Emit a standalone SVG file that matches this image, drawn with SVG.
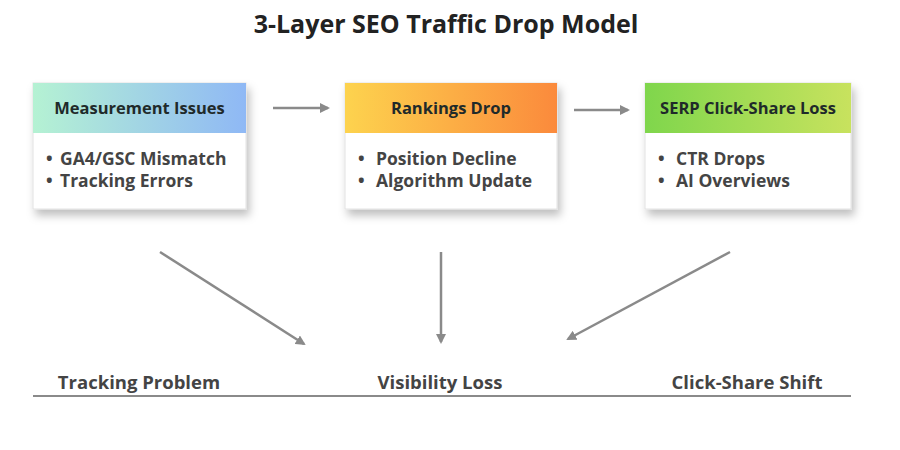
<svg xmlns="http://www.w3.org/2000/svg" width="900" height="450" viewBox="0 0 900 450">
<defs>
<linearGradient id="g1" x1="0" x2="1"><stop offset="0" stop-color="#b5f2d3"/><stop offset="1" stop-color="#8fb8f5"/></linearGradient>
<linearGradient id="g2" x1="0" x2="1"><stop offset="0" stop-color="#fdd34e"/><stop offset="1" stop-color="#fb8a3c"/></linearGradient>
<linearGradient id="g3" x1="0" x2="1"><stop offset="0" stop-color="#7fd64c"/><stop offset="1" stop-color="#c8e25e"/></linearGradient>
<filter id="sh" x="-20%" y="-20%" width="140%" height="150%"><feDropShadow dx="3" dy="6" stdDeviation="4" flood-color="#000" flood-opacity="0.25"/></filter>
<marker id="ah" viewBox="0 0 10 10" refX="8" refY="5" markerWidth="4" markerHeight="4" orient="auto"><path d="M0,0 L10,5 L0,10 z" fill="#8a8a8a"/></marker>
<style>
text{font-family:"Open Sans","Liberation Sans",sans-serif;font-weight:700}
.title{font-size:25px;fill:#222}
.hd{font-size:16.5px;fill:#1f2a2a}
.it{font-size:17.5px;fill:#444}
.lb{font-size:18.5px;fill:#444}
.body{fill:#fff;stroke:#e2e2e2;stroke-width:1}
.c{stroke:#8a8a8a;stroke-width:2.5;fill:none;marker-end:url(#ah)}
</style>
</defs>
<rect width="900" height="450" fill="#fff"/>
<text class="title" x="446" y="33" text-anchor="middle">3-Layer SEO Traffic Drop Model</text>
<g id="n1">
<rect class="body" x="33" y="83" width="213" height="126" filter="url(#sh)"/>
<rect x="33" y="83" width="213" height="50" fill="url(#g1)"/>
<text class="hd" x="139.5" y="114" text-anchor="middle">Measurement Issues</text>
<text class="it" x="46" y="165">•</text><text class="it" x="60" y="165">GA4/GSC Mismatch</text>
<text class="it" x="46" y="187">•</text><text class="it" x="60" y="187">Tracking Errors</text>
</g>
<g id="n2">
<rect class="body" x="345" y="83" width="212" height="126" filter="url(#sh)"/>
<rect x="345" y="83" width="212" height="50" fill="url(#g2)"/>
<text class="hd" x="451" y="114" text-anchor="middle">Rankings Drop</text>
<text class="it" x="358" y="165">•</text><text class="it" x="376" y="165">Position Decline</text>
<text class="it" x="358" y="187">•</text><text class="it" x="376" y="187">Algorithm Update</text>
</g>
<g id="n3">
<rect class="body" x="645" y="83" width="206" height="126" filter="url(#sh)"/>
<rect x="645" y="83" width="206" height="50" fill="url(#g3)"/>
<text class="hd" x="748" y="114" text-anchor="middle">SERP Click-Share Loss</text>
<text class="it" x="658" y="165">•</text><text class="it" x="676" y="165">CTR Drops</text>
<text class="it" x="658" y="187">•</text><text class="it" x="676" y="187">AI Overviews</text>
</g>
<g id="connectors">
<line class="c" x1="273" y1="108" x2="328" y2="108"/>
<line class="c" x1="574" y1="110" x2="628" y2="110"/>
<line class="c" x1="160" y1="252" x2="304" y2="344"/>
<line class="c" x1="441" y1="252" x2="441" y2="342"/>
<line class="c" x1="730" y1="252" x2="568" y2="339"/>
</g>
<g id="labels">
<text class="lb" x="139" y="389" text-anchor="middle">Tracking Problem</text>
<text class="lb" x="440" y="389" text-anchor="middle">Visibility Loss</text>
<text class="lb" x="747" y="389" text-anchor="middle">Click-Share Shift</text>
<line x1="33" y1="396" x2="851" y2="396" stroke="#8a8a8a" stroke-width="2"/>
</g>
</svg>
